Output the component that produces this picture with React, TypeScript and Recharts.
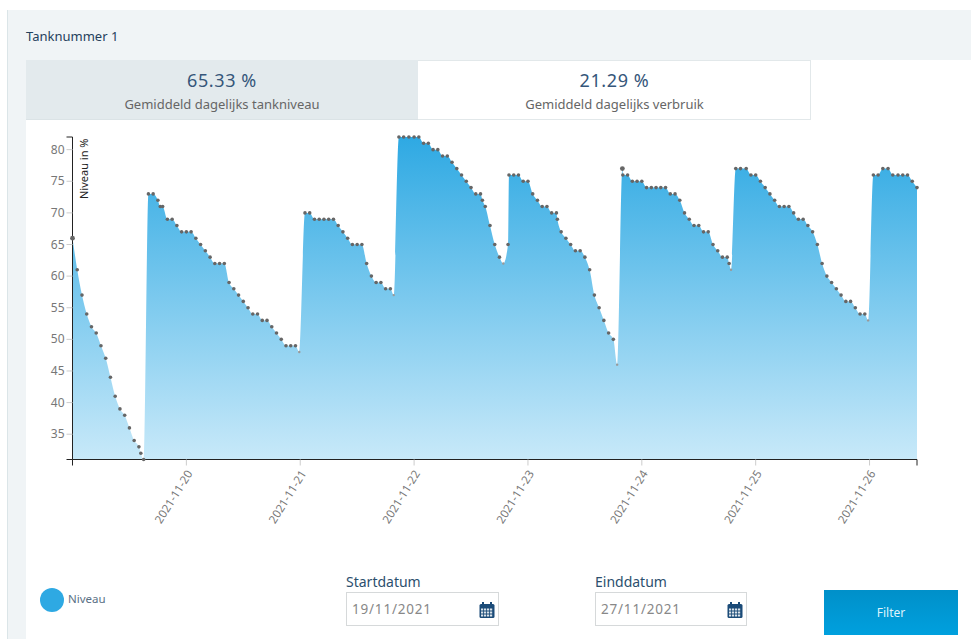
import React from "react";
import { AreaChart, Area, XAxis, YAxis } from "recharts";

const hours = [0,1,2,3,4,5,6,7,8,9,10,11,12,13,14,14.4,15,16,17,18,18.5,19,20,21,22,23,24,25,26,27,28,29,30,31,32,33,34,35,36,37,38,39,40,41,42,43,44,45,46,47,47.8,
  49,50,51,52,53,54,55,56,57,58,59,60,61,62,63,64,65,66,67,67.7,
  68.8,69.8,70.9,72,73,74,75,76,77,78,79,80,81,82,83,84,85,86,86.4,87,88,89,90,90.8,91.8,
  92,93,94,95,96,97,98,99,100,101,102,102.2,103,104,105,106,107,108,109,110,111,112,113,114,114.8,
  115.9,116,117,118,119,120,121,122,123,124,125,126,127,128,129,130,131,132,133,134,135,136,137,138,138.4,138.8,
  139.8,140.8,142,143,144,145,146,147,148,149,150,151,152,153,154,155,156,157,158,159,160,161,162,163,164,165,166,167,167.7,
  168.8,169.8,170.8,171.9,172.9,174,175,176,177,178];
const levels = [66,61,57,54,52,51,49,47,44,41,39,38,36,34,33,32,31,73,73,72,71,71,69,69,68,67,67,67,66,65,64,63,62,62,62,59,58,57,56,55,54,54,53,53,52,51,50,49,49,49,48,
  70,70,69,69,69,69,69,68,67,66,65,65,65,62,60,59,59,58,58,57,
  82,82,82,82,82,81,81,80,80,79,79,78,77,76,75,74,73,73,72,71,68,65,63,62,65,
  76,76,76,75,75,73,72,71,71,70,70,69,67,66,65,64,64,63,61,57,55,53,51,50,46,
  77,76,76,75,75,75,74,74,74,74,74,73,73,72,70,69,68,68,67,67,65,64,63,63,62,61,
  77,77,77,76,76,75,74,73,72,71,71,71,70,69,69,68,67,65,62,60,59,58,57,56,56,55,54,54,53,
  76,76,77,77,76,76,76,76,75,74];
const xTicks = [0,24,48,72,96,120,144,168,178];
const xLabels = ["","2021-11-20","2021-11-21","2021-11-22","2021-11-23","2021-11-24","2021-11-25","2021-11-26",""];
const yTicks = [31,35,40,45,50,55,60,65,70,75,80,82];
const faintHours = [47.8,67.7,90.8,114.8,138.8,167.7];
const largeHours = [0,115.9];
const chartData = hours.map((h, i) => ({ hour: h, niveau: levels[i] }));

const FONT = "'Noto Sans', sans-serif";

const XTick = (p: any) => {
  const i = xTicks.indexOf(p.payload.value);
  const label = xLabels[i];
  return (
    <g>
      <line x1={p.x} x2={p.x} y1={p.y} y2={p.y + 6} stroke={label ? "#cccccc" : "#222222"} strokeWidth={1} />
      {label ? (
        <text x={p.x + 6.5} y={p.y + 14} textAnchor="end" fontSize={11.5} fill="#777777" fontFamily={FONT}
          transform={`rotate(-58 ${p.x + 6.5} ${p.y + 14})`}>{label}</text>
      ) : null}
    </g>
  );
};

const YTick = (p: any) => {
  const v = p.payload.value;
  const edge = v === 31 || v === 82;
  return (
    <g>
      <line x1={p.x - 6} x2={p.x} y1={p.y} y2={p.y} stroke={edge ? "#222222" : "#cccccc"} strokeWidth={1} />
      {edge ? null : (
        <text x={p.x - 8} y={p.y + 4} textAnchor="end" fontSize={12} fill="#777777" fontFamily={FONT}>{v}</text>
      )}
    </g>
  );
};

const Dot = (p: any) => {
  const h = p.payload.hour;
  const faint = faintHours.includes(h);
  const r = faint ? 1.2 : largeHours.includes(h) ? 2.4 : 1.8;
  return <circle key={`d-${h}`} cx={p.cx} cy={p.cy} r={r} fill={faint ? "#999999" : "#666666"} />;
};

const box = (s: React.CSSProperties): React.CSSProperties => ({ position: "absolute", boxSizing: "border-box", ...s });

const Cal = ({ left, top }: { left: number; top: number }) => (
  <svg style={{ position: "absolute", left, top }} width={16} height={16} viewBox="0 0 16 16">
    <rect x={0.5} y={2} width={15} height={14} rx={1.5} fill="#1b4b78" />
    <rect x={3} y={0} width={2} height={4} fill="#1b4b78" />
    <rect x={11} y={0} width={2} height={4} fill="#1b4b78" />
    {[6.5, 9.5, 12.5].map((y) => [2, 5, 8, 11].map((x) => (
      <rect key={`${x}-${y}`} x={x} y={y} width={2.2} height={2} fill="#ffffff" opacity={0.85} />
    )))}
  </svg>
);

const DateField = ({ label, value, left, width }: { label: string; value: string; left: number; width: number }) => (
  <>
    <div style={box({ left, top: 573, fontSize: 14, color: "#2c4f6e", lineHeight: "18px" })}>{label}</div>
    <div style={box({ left, top: 592, width, height: 34, border: "1px solid #d6d9da", background: "#fff" })} />
    <div style={box({ left: left + 6, top: 599, fontSize: 13.5, letterSpacing: 0.8, color: "#888", lineHeight: "20px" })}>{value}</div>
    <Cal left={left + width - 20} top={602} />
  </>
);

export default function App() {
  return (
    <div style={{ position: "absolute", left: 0, top: 0, width: 971, height: 639, overflow: "hidden", background: "#fff", fontFamily: FONT }}>
      <div style={box({ left: 7, top: 10, width: 19, height: 629, background: "#f0f4f6", borderLeft: "1px solid #dbe5e8" })} />
      <div style={box({ left: 26, top: 10, width: 945, height: 50, background: "#f0f4f6" })} />
      <div style={box({ left: 26, top: 27, fontSize: 13, color: "#24405c", lineHeight: "18px" })}>Tanknummer 1</div>

      <div style={box({ left: 26, top: 60, width: 392, height: 60, background: "#e3eaed", borderBottom: "1px solid #dbe3e6" })} />
      <div style={box({ left: 418, top: 60, width: 393, height: 60, background: "#fff", border: "1px solid #e2e8ea", borderLeft: "none" })} />
      <div style={box({ left: 26, top: 68, width: 392, textAlign: "center", fontSize: 18, letterSpacing: 0.6, color: "#35567a", lineHeight: "24px" })}>65.33 %</div>
      <div style={box({ left: 26, top: 94, width: 392, textAlign: "center", fontSize: 13, color: "#666", lineHeight: "20px" })}>Gemiddeld dagelijks tankniveau</div>
      <div style={box({ left: 418, top: 68, width: 393, textAlign: "center", fontSize: 18, letterSpacing: 0.6, color: "#35567a", lineHeight: "24px" })}>21.29 %</div>
      <div style={box({ left: 418, top: 94, width: 393, textAlign: "center", fontSize: 13, color: "#666", lineHeight: "20px" })}>Gemiddeld dagelijks verbruik</div>

      <div style={{ position: "absolute", left: 0, top: 0 }}>
        <AreaChart width={971} height={560} data={chartData} margin={{ top: 137, right: 54, bottom: 0, left: 32.5 }}>
          <defs>
            <linearGradient id="niveauFill" x1="0" y1="0" x2="0" y2="1">
              <stop offset="0%" stopColor="#2ea9e3" />
              <stop offset="100%" stopColor="#c8e9f9" />
            </linearGradient>
          </defs>
          <XAxis dataKey="hour" type="number" domain={[0, 178]} ticks={xTicks} interval={0} height={100.5}
            tickSize={0} tickMargin={0} tickLine={false} axisLine={{ stroke: "#222222" }} tick={XTick} />
          <YAxis type="number" domain={[31, 82]} ticks={yTicks} interval={0} width={40}
            tickSize={0} tickMargin={0} tickLine={false} axisLine={{ stroke: "#222222" }} tick={YTick} />
          <Area type="monotone" dataKey="niveau" stroke="none" fill="url(#niveauFill)" fillOpacity={1}
            isAnimationActive={false} dot={Dot} activeDot={false} />
        </AreaChart>
      </div>

      <div style={box({ left: 77, top: 137, height: 62, writingMode: "vertical-rl", transform: "rotate(180deg)", fontSize: 11, color: "#222", lineHeight: "14px", whiteSpace: "nowrap", textAlign: "left" })}>Niveau in %</div>

      <div style={box({ left: 40, top: 588, width: 24, height: 24, borderRadius: 12, background: "#2ea9e3" })} />
      <div style={box({ left: 68, top: 590, fontSize: 11.5, color: "#5a7085", lineHeight: "18px" })}>Niveau</div>

      <DateField label="Startdatum" value="19/11/2021" left={346} width={153} />
      <DateField label="Einddatum" value="27/11/2021" left={595} width={152} />

      <div style={box({ left: 824, top: 590, width: 134, height: 45, background: "linear-gradient(#0090c9,#00a0de)", color: "#dff3fb", fontSize: 12, textAlign: "center", lineHeight: "45px" })}>Filter</div>
    </div>
  );
}
